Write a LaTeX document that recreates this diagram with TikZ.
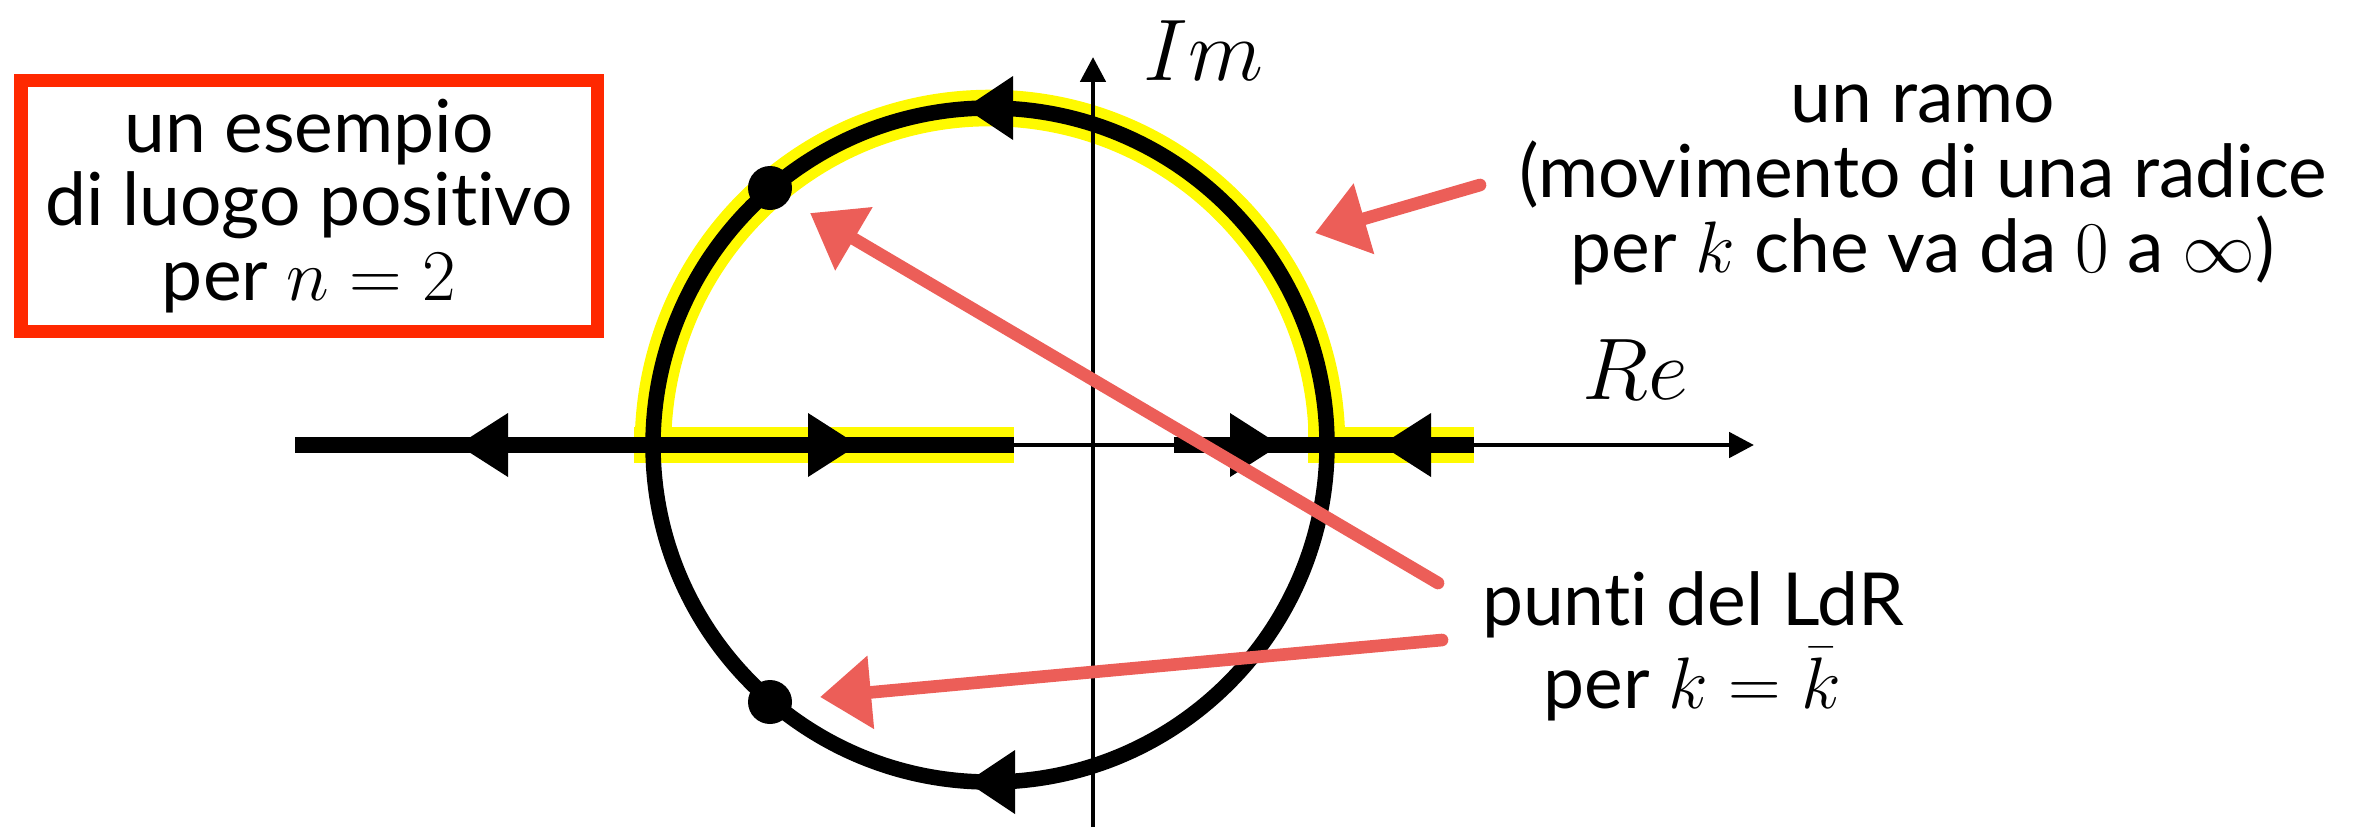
\documentclass[tikz,border=0pt]{standalone}
\usepackage{fontspec}
\setmainfont{Lato}[Ligatures=NoCommon]
\usetikzlibrary{arrows.meta}
\definecolor{boxred}{RGB}{255,40,0}
\definecolor{pen}{RGB}{236,94,88}
\definecolor{hl}{RGB}{255,250,0}
\begin{document}
\begin{tikzpicture}[x=0.01cm,y=0.01cm,yscale=-1,
  hilite/.style={draw=hl,line width=10.4pt},
  axisline/.style={draw=black,line width=1.4pt,-{Triangle[length=7.1pt,width=7.1pt]}},
  locus/.style={draw=black,line width=4.4pt},
  tri/.style={fill=black},
  rootdot/.style={fill=black},
  redarrow/.style={draw=pen,line width=3.6pt,line cap=round,-{Triangle[length=14.5pt,width=20pt]}},
  txt/.style={inner sep=0pt,anchor=base,font=\fontsize{20.8}{21}\selectfont},
  axlabel/.style={inner sep=0pt,anchor=base west,font=\fontsize{27}{27}\selectfont}]
\useasboundingbox (0,0) rectangle (2370,827);
% highlighted branch
\draw[hilite] (653,445) arc[start angle=180,end angle=360,radius=337];
\draw[hilite] (634,445) -- (1014,445);
\draw[hilite] (1308,445) -- (1474,445);
% axes
\coordinate (xs) at (295,445); \coordinate (xe) at (1754,445);
\coordinate (ys) at (1093,827); \coordinate (ye) at (1093,57);
\draw[axisline] (xs) -- (xe);
\draw[axisline] (ys) -- (ye);
\node[axlabel] (im) at (1143,80) {$Im$};
\node[axlabel] (re) at (1582,399) {$Re$};
% locus
\draw[locus] (295,445) -- (1014,445);
\draw[locus] (1174,445) -- (1474,445);
\draw[locus] (990,445) circle[radius=337];
\fill[tri] (458,445) -- (508,413) -- (508,477) -- cycle;
\fill[tri] (858,445) -- (808,413) -- (808,477) -- cycle;
\fill[tri] (1280,445) -- (1230,413) -- (1230,477) -- cycle;
\fill[tri] (1381,445) -- (1431,413) -- (1431,477) -- cycle;
\fill[tri] (965,108) -- (1013,76) -- (1013,140) -- cycle;
\fill[tri] (967,782) -- (1015,750) -- (1015,814) -- cycle;
\fill[rootdot] (770,188) circle[radius=22];
\fill[rootdot] (770,702) circle[radius=22];
% box
\draw[boxred,line width=3.7pt] (21,80.5) rectangle (597.5,331);
\node[txt] (b1) at (309,152) {un esempio};
\node[txt] (b2) at (309,225) {di luogo positivo};
\node[txt] (b3) at (309,300) {per $n=2$};
% right labels
\node[txt] (r1) at (1923,122) {un ramo};
\node[txt] (r2) at (1923,197) {(movimento di una radice};
\node[txt] (r3) at (1923,272) {per $k$ che va da $0$ a $\infty$)};
\node[txt] (p1) at (1693,625) {punti del LdR};
\node[txt] (p2) at (1692,708) {per $k=\bar{k}$};
% red arrows
\coordinate (ramoTail) at (1480,185); \coordinate (ramoTip) at (1315,233);
\coordinate (pTailA) at (1438,583); \coordinate (pTipA) at (810,213);
\coordinate (pTailB) at (1442,640); \coordinate (pTipB) at (820,697);
\draw[redarrow] (ramoTail) -- (ramoTip);
\draw[redarrow] (pTailA) -- (pTipA);
\draw[redarrow] (pTailB) -- (pTipB);
\end{tikzpicture}
\end{document}
